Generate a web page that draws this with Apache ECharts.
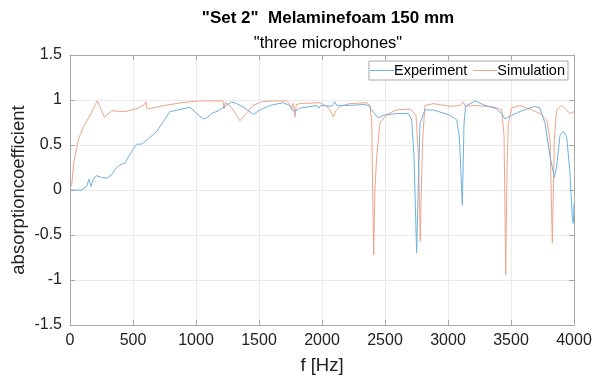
<!DOCTYPE html>
<html>
<head>
<meta charset="utf-8">
<script src="https://cdn.jsdelivr.net/npm/echarts@6/dist/echarts.min.js"></script>
<style>html,body{margin:0;padding:0;background:#fff}#c{width:599px;height:383px}</style>
</head>
<body>
<div id="c"></div>
<script>
const titleText = '"Set 2"  Melaminefoam 150 mm';
const subtitleText = '"three microphones"';
const xName = 'f [Hz]';
const yName = 'absorptioncoefficient';
const seriesNames = ['Experiment', 'Simulation'];

const expFreq = [0,93,132,151,167,185,206,251,291,331,357,397,437,489,529,569,622,688,741,794,860,952,1005,1058,1085,1124,1177,1230,1283,1323,1389,1455,1508,1587,1693,1741,1767,1790,1825,1958,1975,1990,2077,2103,2116,2222,2328,2368,2394,2447,2487,2593,2685,2712,2730,2751,2767,2778,2817,2884,3016,3069,3090,3103,3114,3127,3140,3214,3294,3373,3426,3452,3505,3585,3690,3730,3770,3810,3844,3862,3889,3915,3942,3968,3987,3995,4000];
const expVal = [0.0,0.0,0.04,0.12,0.04,0.12,0.16,0.14,0.13,0.17,0.23,0.28,0.30,0.43,0.51,0.51,0.57,0.65,0.76,0.87,0.89,0.92,0.85,0.79,0.80,0.85,0.88,0.93,0.98,0.96,0.91,0.84,0.89,0.94,0.97,0.94,0.88,0.88,0.91,0.94,0.91,0.94,0.93,0.98,0.94,0.94,0.95,0.94,0.89,0.80,0.83,0.85,0.85,0.78,0.37,-0.70,0.20,0.74,0.89,0.89,0.83,0.78,0.59,0.19,-0.17,0.74,0.93,0.99,0.94,0.91,0.85,0.79,0.83,0.88,0.93,0.91,0.74,0.37,0.14,0.26,0.61,0.65,0.59,0.19,-0.33,-0.37,-0.15];

const simFreq = [0,13,30,66,106,159,200,217,240,272,300,331,437,542,590,603,612,622,754,886,1018,1214,1222,1232,1260,1300,1349,1400,1452,1520,1611,1720,1741,1759,1768,1778,1786,1796,1825,1984,2037,2063,2090,2110,2143,2222,2354,2381,2395,2402,2410,2420,2434,2460,2513,2593,2698,2746,2765,2780,2790,2799,2817,2884,3016,3095,3122,3135,3214,3373,3426,3445,3458,3468,3479,3505,3571,3664,3730,3783,3810,3828,3844,3862,3902,3968,4000];
const simVal = [0.02,0.05,0.30,0.56,0.70,0.83,0.95,0.99,0.92,0.81,0.84,0.88,0.87,0.91,0.95,0.98,0.90,0.90,0.94,0.97,0.99,0.99,0.90,0.97,0.95,0.88,0.77,0.85,0.94,0.98,0.99,0.99,0.96,0.89,0.96,0.92,0.81,0.95,0.96,0.97,0.93,0.89,0.81,0.88,0.93,0.96,0.97,0.94,0.75,0.0,-0.72,0.0,0.37,0.74,0.84,0.89,0.90,0.83,0.40,-0.57,0.10,0.56,0.94,0.96,0.93,0.94,0.98,0.93,0.94,0.92,0.89,0.60,-0.94,0.20,0.74,0.91,0.94,0.89,0.85,0.78,0.56,-0.59,0.56,0.89,0.94,0.85,0.87];

const xTicks = [0,500,1000,1500,2000,2500,3000,3500,4000];
const yTicks = [-1.5,-1,-0.5,0,0.5,1,1.5];

const expData = expFreq.map((f, i) => [f, expVal[i]]);
const simData = simFreq.map((f, i) => [f, simVal[i]]);

const FONT = '"Liberation Sans", Arial, sans-serif';
const axisGray = '#a8a8a8';
const chart = echarts.init(document.getElementById('c'), null, {renderer: 'canvas'});
chart.setOption({
  animation: false,
  backgroundColor: '#fff',
  title: [
    {text: titleText, left: 323, top: 5, textAlign: 'center',
     textStyle: {fontFamily: FONT, fontSize: 17, fontWeight: 'bold', color: '#000'}},
    {text: subtitleText, left: 323, top: 30, textAlign: 'center',
     textStyle: {fontFamily: FONT, fontSize: 16.5, fontWeight: 'normal', color: '#000'}}
  ],
  legend: {
    data: seriesNames,
    right: 31, top: 61,
    orient: 'horizontal',
    icon: 'rect', itemWidth: 24, itemHeight: 1, itemGap: 6,
    borderColor: '#a8a8a8', borderWidth: 1, borderRadius: 0,
    backgroundColor: '#fff',
    padding: [2, 3, 2, 1],
    textStyle: {fontFamily: FONT, fontSize: 14.5, color: '#000', padding: [0, 0, 0, -5]}
  },
  grid: {left: 70, right: 25, top: 55, bottom: 58, containLabel: false, outerBoundsMode: 'none'},
  xAxis: [
    {type: 'value', min: 0, max: 4000, interval: 500, position: 'bottom',
     name: xName, nameLocation: 'middle', nameGap: 31, nameMoveOverlap: false,
     nameTextStyle: {fontFamily: FONT, fontSize: 18.5, color: '#222'},
     axisLine: {show: true, onZero: false, lineStyle: {color: axisGray}},
     axisTick: {show: true, inside: true, length: 5, lineStyle: {color: axisGray}},
     axisLabel: {fontFamily: FONT, fontSize: 16, color: '#222', margin: 8,
                 formatter: v => String(v)},
     splitLine: {show: true, lineStyle: {color: '#ebebeb', width: 1}}},
    {type: 'value', min: 0, max: 4000, interval: 500, position: 'top',
     axisLine: {show: true, onZero: false, lineStyle: {color: axisGray}},
     axisTick: {show: true, inside: true, length: 5, lineStyle: {color: axisGray}},
     axisLabel: {show: false}, splitLine: {show: false}}
  ],
  yAxis: [
    {type: 'value', min: -1.5, max: 1.5, interval: 0.5, position: 'left',
     name: yName, nameLocation: 'middle', nameGap: 42, nameRotate: 90, nameMoveOverlap: false,
     nameTextStyle: {fontFamily: FONT, fontSize: 18.5, color: '#222'},
     axisLine: {show: true, onZero: false, lineStyle: {color: axisGray}},
     axisTick: {show: true, inside: true, length: 5, lineStyle: {color: axisGray}},
     axisLabel: {fontFamily: FONT, fontSize: 16, color: '#222', margin: 8,
                 formatter: v => String(v)},
     splitLine: {show: true, lineStyle: {color: '#ebebeb', width: 1}}},
    {type: 'value', min: -1.5, max: 1.5, interval: 0.5, position: 'right',
     axisLine: {show: true, onZero: false, lineStyle: {color: axisGray}},
     axisTick: {show: true, inside: true, length: 5, lineStyle: {color: axisGray}},
     axisLabel: {show: false}, splitLine: {show: false}}
  ],
  series: [
    {name: seriesNames[0], type: 'line', data: expData, xAxisIndex: 0, yAxisIndex: 0,
     showSymbol: false, symbol: 'none', smooth: false,
     lineStyle: {color: '#6fb0e0', width: 1}, itemStyle: {color: '#6fb0e0'}, z: 3},
    {name: seriesNames[1], type: 'line', data: simData, xAxisIndex: 0, yAxisIndex: 0,
     showSymbol: false, symbol: 'none', smooth: false,
     lineStyle: {color: '#eea487', width: 1}, itemStyle: {color: '#eea487'}, z: 2}
  ]
});
</script>
</body>
</html>
